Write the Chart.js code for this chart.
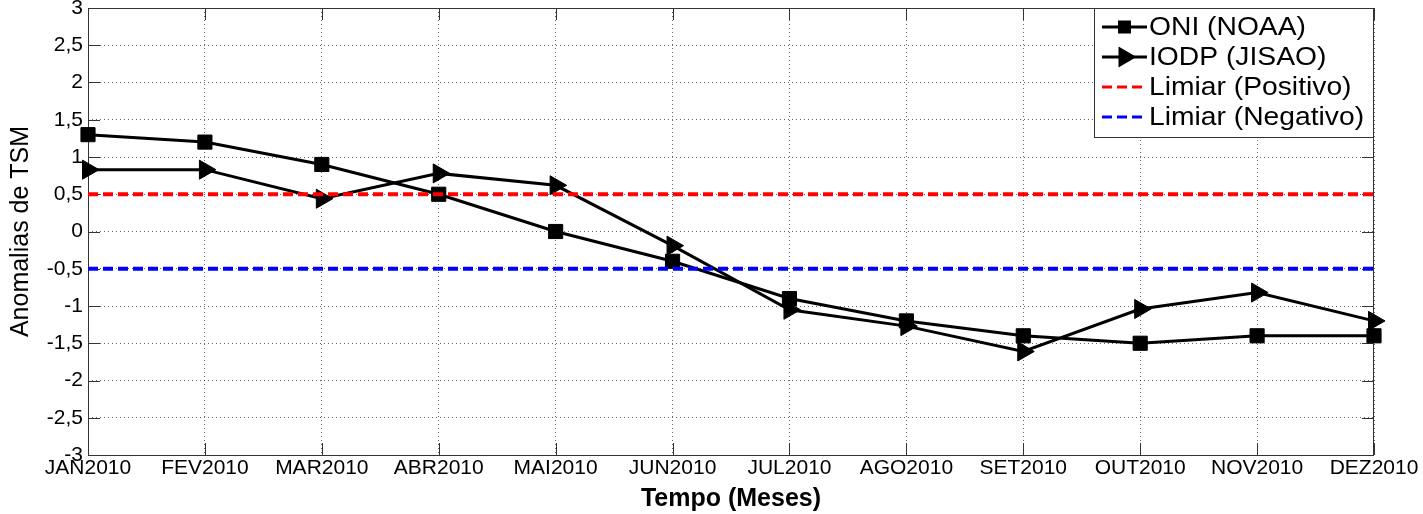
<!DOCTYPE html>
<html>
<head>
<meta charset="utf-8">
<title>Anomalias de TSM - 2010</title>
<script src="https://cdn.jsdelivr.net/npm/chart.js@4.4.0/dist/chart.umd.min.js"></script>
<style>
  body { margin: 0; background: #fff; }
  #chartBox { width: 1423px; height: 514px; }
</style>
</head>
<body>
<div id="chartBox"><canvas id="tsmChart" width="1423" height="514"></canvas></div>
<script>
// Dados
const meses = ["JAN2010", "FEV2010", "MAR2010", "ABR2010", "MAI2010", "JUN2010",
  "JUL2010", "AGO2010", "SET2010", "OUT2010", "NOV2010", "DEZ2010"];
const oniNoaa = [1.3, 1.2, 0.9, 0.5, 0.0, -0.4, -0.9, -1.2, -1.4, -1.5, -1.4, -1.4];
const iodpJisao = [0.83, 0.83, 0.44, 0.78, 0.62, -0.19, -1.05, -1.27, -1.61, -1.04, -0.82, -1.2];
const limiarPositivo = [0.5, 0.5, 0.5, 0.5, 0.5, 0.5, 0.5, 0.5, 0.5, 0.5, 0.5, 0.5];
const limiarNegativo = [-0.5, -0.5, -0.5, -0.5, -0.5, -0.5, -0.5, -0.5, -0.5, -0.5, -0.5, -0.5];
const yTicks = [-3, -2.5, -2, -1.5, -1, -0.5, 0, 0.5, 1, 1.5, 2, 2.5, 3];

Chart.defaults.font.family = "'Liberation Sans', Arial, sans-serif";
Chart.defaults.color = "#000";

// ticks para dentro, como no MATLAB
const innerTicks = {
  id: "innerTicks",
  beforeDatasetsDraw(chart) {
    const { ctx, chartArea, scales } = chart;
    const len = 12;
    ctx.save();
    ctx.strokeStyle = "#333";
    ctx.lineWidth = 1;
    ctx.beginPath();
    scales.y.ticks.forEach((t) => {
      const py = Math.round(scales.y.getPixelForValue(t.value)) + 0.5;
      ctx.moveTo(chartArea.left, py);
      ctx.lineTo(chartArea.left + len, py);
      ctx.moveTo(chartArea.right, py);
      ctx.lineTo(chartArea.right - len, py);
    });
    scales.x.ticks.forEach((t, i) => {
      const px = Math.round(scales.x.getPixelForTick(i)) + 0.5;
      ctx.moveTo(px, chartArea.bottom);
      ctx.lineTo(px, chartArea.bottom - len);
      ctx.moveTo(px, chartArea.top);
      ctx.lineTo(px, chartArea.top + len);
    });
    ctx.stroke();
    ctx.strokeRect(chartArea.left + 0.5, chartArea.top + 0.5,
      chartArea.right - chartArea.left - 1, chartArea.bottom - chartArea.top);
    ctx.restore();
  }
};

// legenda em caixa no canto superior direito
const matlabLegend = {
  id: "matlabLegend",
  afterDraw(chart) {
    const { ctx, chartArea } = chart;
    const boxW = 279, boxH = 129, rowH = 30;
    const x0 = chartArea.right - 1 - boxW;
    const y0 = chartArea.top;
    ctx.save();
    ctx.fillStyle = "#fff";
    ctx.fillRect(x0, y0, boxW, boxH);
    ctx.strokeStyle = "#333";
    ctx.lineWidth = 1;
    ctx.strokeRect(x0 + 0.5, y0 + 0.5, boxW, boxH);

    chart.data.datasets.forEach((ds, i) => {
      const cy = y0 + 19 + i * rowH;
      const lx0 = x0 + 8, lx1 = x0 + 53;
      ctx.strokeStyle = ds.borderColor;
      ctx.lineWidth = ds.legendLineWidth;
      ctx.setLineDash(ds.borderDash || []);
      ctx.beginPath();
      ctx.moveTo(lx0, cy);
      ctx.lineTo(lx1, cy);
      ctx.stroke();
      ctx.setLineDash([]);
      if (ds.pointRadius > 0) {
        ctx.fillStyle = ds.pointBackgroundColor;
        ctx.strokeStyle = ds.pointBorderColor;
        Chart.helpers.drawPoint(ctx, {
          pointStyle: ds.pointStyle,
          rotation: ds.pointRotation || 0,
          radius: ds.legendPointRadius,
          borderWidth: 1
        }, (lx0 + lx1) / 2, cy);
      }
      // texto levemente esticado na horizontal como na figura original
      ctx.save();
      ctx.translate(lx1 + 2, cy + 1);
      ctx.scale(1.13, 1);
      ctx.fillStyle = "#000";
      ctx.font = "25px 'Liberation Sans', Arial, sans-serif";
      ctx.textBaseline = "middle";
      ctx.fillText(ds.label, 0, 0);
      ctx.restore();
    });
    ctx.restore();
  }
};

const ctx = document.getElementById("tsmChart").getContext("2d");
const tsmChart = new Chart(ctx, {
  type: "line",
  data: {
    labels: meses,
    datasets: [
      {
        label: "ONI (NOAA)",
        data: oniNoaa,
        borderColor: "#000",
        borderWidth: 3,
        pointStyle: "rect",
        pointRadius: 10,
        pointBackgroundColor: "#000",
        pointBorderColor: "#000",
        pointBorderWidth: 1,
        legendLineWidth: 3,
        legendPointRadius: 7,
        order: 1
      },
      {
        label: "IODP (JISAO)",
        data: iodpJisao,
        borderColor: "#000",
        borderWidth: 3,
        pointStyle: "triangle",
        pointRotation: 90,
        pointRadius: 11,
        pointBackgroundColor: "#000",
        pointBorderColor: "#000",
        pointBorderWidth: 1,
        legendLineWidth: 3,
        legendPointRadius: 9,
        order: 1
      },
      {
        label: "Limiar (Positivo)",
        data: limiarPositivo,
        borderColor: "#ff0000",
        borderWidth: 4,
        borderDash: [10, 5],
        pointRadius: 0,
        legendLineWidth: 3,
        order: 0
      },
      {
        label: "Limiar (Negativo)",
        data: limiarNegativo,
        borderColor: "#0000ff",
        borderWidth: 4,
        borderDash: [10, 5],
        pointRadius: 0,
        legendLineWidth: 3,
        order: 0
      }
    ]
  },
  options: {
    responsive: false,
    animation: false,
    layout: {
      autoPadding: false,
      padding: { left: 0, top: 8, right: 49, bottom: 0 }
    },
    plugins: {
      legend: { display: false },
      tooltip: { enabled: false }
    },
    elements: { line: { tension: 0, fill: false } },
    scales: {
      x: {
        type: "category",
        offset: false,
        grid: {
          color: "rgba(0,0,0,0.6)",
          lineWidth: 1,
          drawTicks: false
        },
        border: { display: false, dash: [1, 3] },
        ticks: {
          autoSkip: false,
          maxRotation: 0,
          minRotation: 0,
          padding: 1,
          font: { size: 21 }
        },
        title: {
          display: true,
          text: "Tempo (Meses)",
          font: { size: 25, weight: "bold" },
          padding: { top: 0, bottom: 0 }
        },
        afterFit(scale) {
          scale.height = 59;
          scale.paddingLeft = 0;
          scale.paddingRight = 0;
        }
      },
      y: {
        min: -3,
        max: 3,
        afterBuildTicks(scale) {
          scale.ticks = yTicks.map((v) => ({ value: v }));
        },
        grid: {
          color: "rgba(0,0,0,0.6)",
          lineWidth: 1,
          drawTicks: false
        },
        border: { display: false, dash: [1, 3] },
        ticks: {
          padding: 5,
          font: { size: 21 },
          callback: (value) => String(Math.round(value * 10) / 10).replace(".", ",")
        },
        title: {
          display: true,
          text: "Anomalias de TSM",
          font: { size: 25 },
          padding: { top: 6, bottom: 0 }
        },
        afterFit(scale) {
          scale.width = 88;
          scale.paddingTop = 0;
          scale.paddingBottom = 0;
        }
      }
    }
  },
  plugins: [innerTicks, matlabLegend]
});
</script>
</body>
</html>
